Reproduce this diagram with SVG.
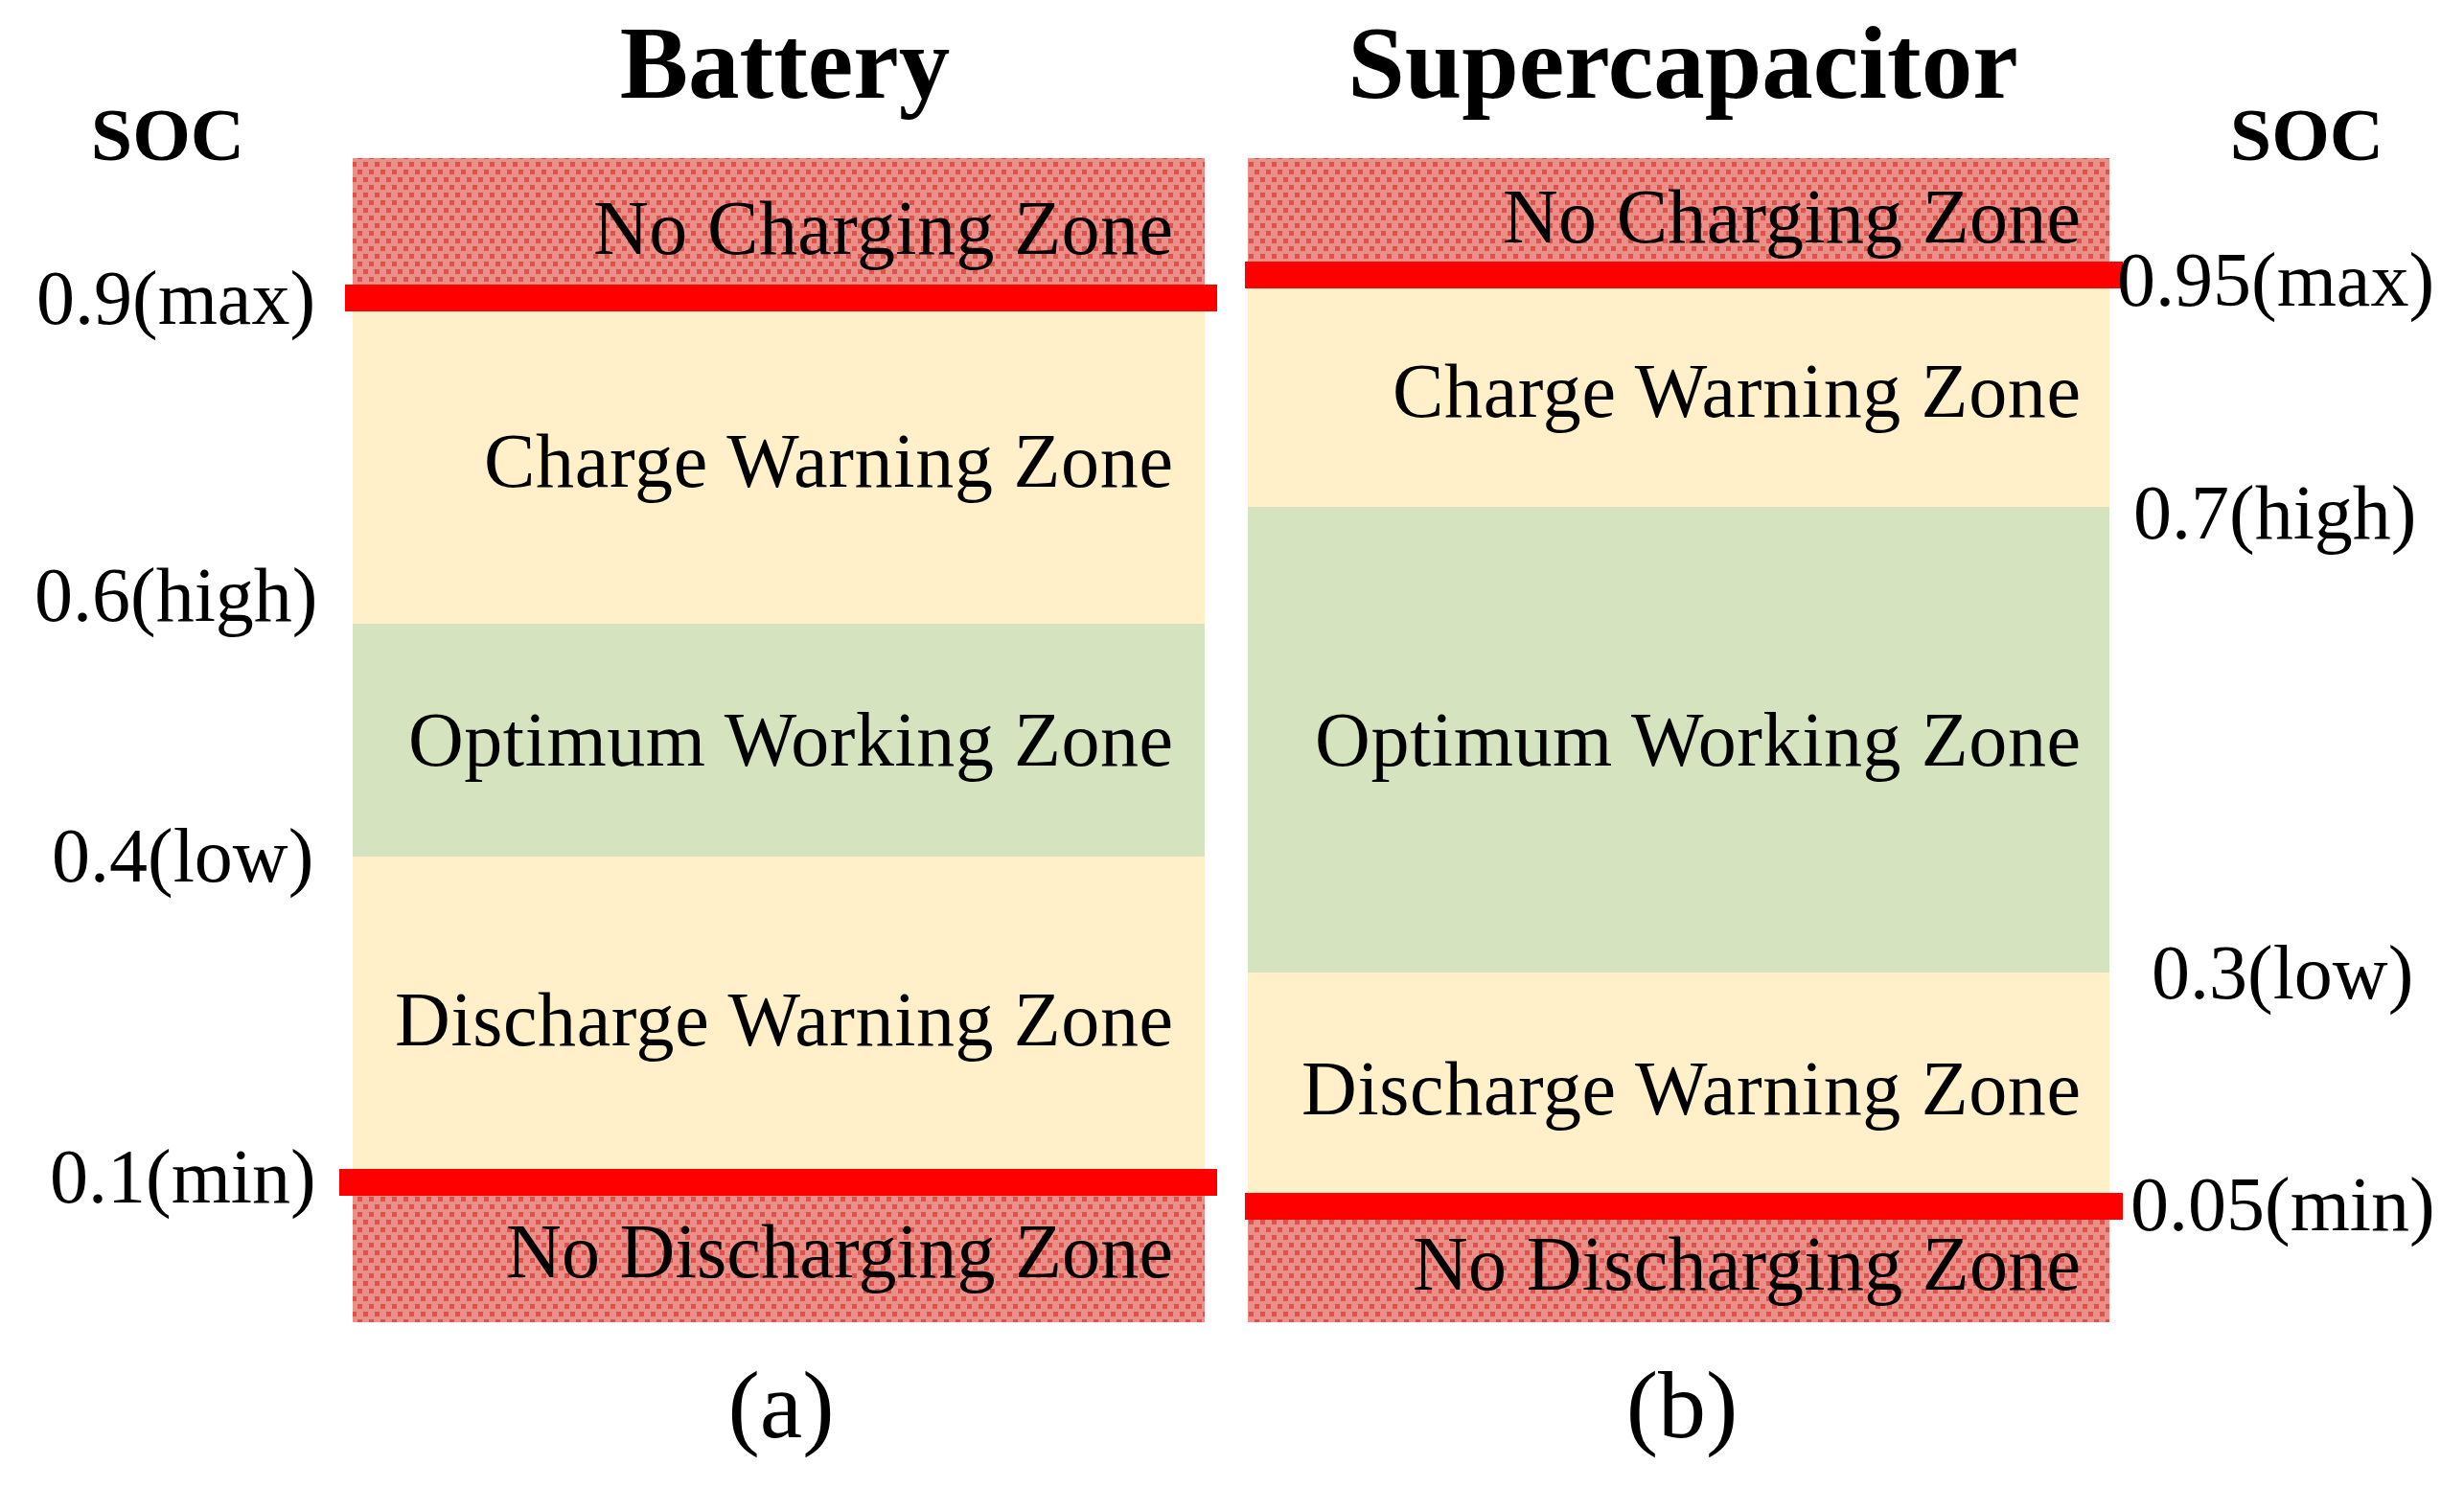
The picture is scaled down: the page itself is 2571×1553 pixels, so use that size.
<svg xmlns="http://www.w3.org/2000/svg" width="2571" height="1553" viewBox="0 0 2571 1553">
<defs>
<style>
text{font-family:"Liberation Serif","Times New Roman",serif;fill:#000}
.title{font-size:107px;font-weight:bold;text-anchor:middle}
.soc{font-size:78px;font-weight:bold;text-anchor:middle}
.zone{font-size:80px;text-anchor:end}
.val{font-size:80px}
.cap{font-size:100px;text-anchor:middle}
.hatch{fill:url(#dots)}
.cream{fill:#FFF0C9}
.green{fill:#D5E3BF}
.limit{fill:#FF0000}
</style>
<pattern id="dots" width="12" height="16" patternUnits="userSpaceOnUse">
<rect width="12" height="16" fill="#EC8F89"/>
<rect x="1" y="1" width="5" height="5" fill="#E0514A"/>
<rect x="7" y="9" width="5" height="5" fill="#E0514A"/>
</pattern>
</defs>
<rect width="2571" height="1553" fill="#fff"/>

<text class="title" x="819" y="102">Battery</text>
<text class="title" x="1756" y="102">Supercapacitor</text>
<text class="soc" x="175" y="167">SOC</text>
<text class="soc" x="2407" y="167">SOC</text>

<g id="battery">
<g id="bat-nocharge"><rect class="hatch" x="368" y="165" width="889" height="146"/><text class="zone" x="1224" y="265" textLength="605" lengthAdjust="spacing">No Charging Zone</text></g>
<g id="bat-chargewarn"><rect class="cream" x="368" y="311" width="889" height="340"/><text class="zone" x="1224" y="508" textLength="719" lengthAdjust="spacing">Charge Warning Zone</text></g>
<g id="bat-optimum"><rect class="green" x="368" y="651" width="889" height="243"/><text class="zone" x="1224" y="799" textLength="798" lengthAdjust="spacing">Optimum Working Zone</text></g>
<g id="bat-dischargewarn"><rect class="cream" x="368" y="894" width="889" height="340"/><text class="zone" x="1224" y="1091" textLength="812" lengthAdjust="spacing">Discharge Warning Zone</text></g>
<g id="bat-nodischarge"><rect class="hatch" x="368" y="1234" width="889" height="146"/><text class="zone" x="1224" y="1333" textLength="696" lengthAdjust="spacing">No Discharging Zone</text></g>
</g>

<g id="supercap">
<g id="sc-nocharge"><rect class="hatch" x="1302" y="165" width="899" height="122"/><text class="zone" x="2171" y="253" textLength="603" lengthAdjust="spacing">No Charging Zone</text></g>
<g id="sc-chargewarn"><rect class="cream" x="1302" y="287" width="899" height="242"/><text class="zone" x="2171" y="435" textLength="718" lengthAdjust="spacing">Charge Warning Zone</text></g>
<g id="sc-optimum"><rect class="green" x="1302" y="529" width="899" height="486"/><text class="zone" x="2171" y="799" textLength="799" lengthAdjust="spacing">Optimum Working Zone</text></g>
<g id="sc-dischargewarn"><rect class="cream" x="1302" y="1015" width="899" height="244"/><text class="zone" x="2171" y="1163" textLength="813" lengthAdjust="spacing">Discharge Warning Zone</text></g>
<g id="sc-nodischarge"><rect class="hatch" x="1302" y="1259" width="899" height="121"/><text class="zone" x="2171" y="1346" textLength="697" lengthAdjust="spacing">No Discharging Zone</text></g>
</g>

<g id="limits">
<rect class="limit" x="360" y="297" width="910" height="28"/>
<rect class="limit" x="354" y="1220" width="916" height="28"/>
<rect class="limit" x="1299" y="273" width="916" height="28"/>
<rect class="limit" x="1299" y="1245" width="916" height="28"/>
</g>

<g id="labels">
<text class="val" x="38" y="338">0.9(max)</text>
<text class="val" x="36" y="648">0.6(high)</text>
<text class="val" x="54" y="920">0.4(low)</text>
<text class="val" x="52" y="1255">0.1(min)</text>
<text class="val" x="2209" y="319">0.95(max)</text>
<text class="val" x="2226" y="562">0.7(high)</text>
<text class="val" x="2245" y="1042">0.3(low)</text>
<text class="val" x="2223" y="1284">0.05(min)</text>
</g>

<text class="cap" x="815" y="1500">(a)</text>
<text class="cap" x="1755" y="1500">(b)</text>
</svg>
